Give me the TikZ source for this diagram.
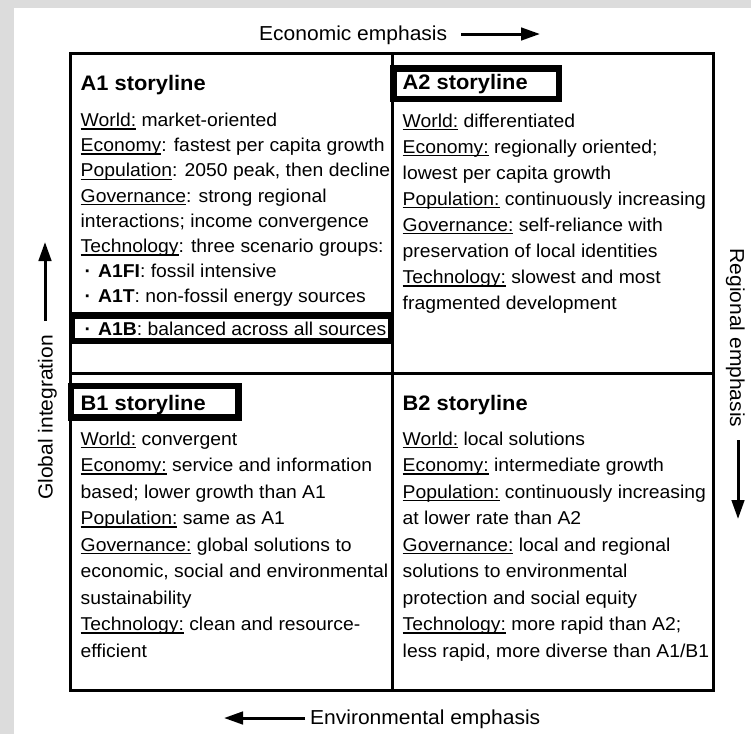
\documentclass[tikz,border=0pt]{standalone}
\usepackage{fontspec}
\setmainfont{Liberation Sans}[FakeStretch=1.04]
\usetikzlibrary{arrows.meta}
\definecolor{panelgray}{RGB}{220,220,220}

% underlined field name: a thin rule just below the baseline
\newsavebox\ulbox
\newcommand\ulword[1]{\sbox\ulbox{#1}\rlap{\rule[-3pt]{\wd\ulbox}{1.3pt}}\usebox\ulbox}
% a block of left-aligned lines with a fixed line pitch
\newcommand\bodyblock[2]{\fontsize{18.6}{#1}\selectfont\begin{tabular}[t]{@{}l@{}}#2\end{tabular}}
\newcommand\bul{\hspace{4pt}\textbf{·}\hspace{7pt}}

\tikzset{
  bodytext/.style={anchor=base west, inner sep=0pt},
  storytitle/.style={anchor=base west, inner sep=0pt, font=\fontsize{21}{25}\selectfont\bfseries},
  axislabel/.style={anchor=base, inner sep=0pt, font=\fontsize{20.2}{24}\selectfont},
  axisarrow/.style={line width=3pt, -{Triangle[length=19pt,width=12.5pt]}},
  hilite/.style={draw, line width=6.5pt},
  gridline/.style={line width=3pt}
}

\begin{document}
\begin{tikzpicture}[x=1pt,y=-1pt]
\useasboundingbox (0,0) rectangle (751,734);
\fill[panelgray] (0,0) rectangle (751,734);
\fill[white] (14,8) rectangle (751,734);

% quadrant grid
\draw[gridline] (70,53) rectangle (713,690);
\draw[gridline] (392,53) -- (392,690);
\draw[gridline] (70,373) -- (713,373);

% highlighted entries
\draw[hilite] (72,315.5) rectangle (391,341);
\draw[hilite] (393.5,68.5) rectangle (559,99);
\draw[hilite] (71,386) rectangle (238.5,417.5);

% A1
\node[storytitle] (a1title) at (80.5,90) {A1 storyline};
\node[bodytext] (a1body) at (80.5,126.5) {\bodyblock{25.2pt}{%
\ulword{World:} market-oriented\\
\ulword{Economy}: fastest per capita growth\\
\ulword{Population}: 2050 peak, then decline\\
\ulword{Governance}: strong regional\\
interactions; income convergence\\
\ulword{Technology}: three scenario groups:\\
\bul\textbf{A1FI}: fossil intensive\\
\bul\textbf{A1T}: non-fossil energy sources}};
\node[bodytext] (a1b) at (80.5,335) {\bodyblock{25.2pt}{\bul\textbf{A1B}: balanced across all sources}};

% A2
\node[storytitle] (a2title) at (402.5,89) {A2 storyline};
\node[bodytext] (a2body) at (402.5,127) {\bodyblock{26.1pt}{%
\ulword{World:} differentiated\\
\ulword{Economy:} regionally oriented;\\
lowest per capita growth\\
\ulword{Population:} continuously increasing\\
\ulword{Governance:} self-reliance with\\
preservation of local identities\\
\ulword{Technology:} slowest and most\\
fragmented development}};

% B1
\node[storytitle] (b1title) at (80.5,410) {B1 storyline};
\node[bodytext] (b1body) at (80.5,445) {\bodyblock{26.5pt}{%
\ulword{World:} convergent\\
\ulword{Economy:} service and information\\
based; lower growth than A1\\
\ulword{Population:} same as A1\\
\ulword{Governance:} global solutions to\\
economic, social and environmental\\
sustainability\\
\ulword{Technology:} clean and resource-\\
efficient}};

% B2
\node[storytitle] (b2title) at (402.5,410) {B2 storyline};
\node[bodytext] (b2body) at (402.5,445) {\bodyblock{26.5pt}{%
\ulword{World:} local solutions\\
\ulword{Economy:} intermediate growth\\
\ulword{Population:} continuously increasing\\
at lower rate than A2\\
\ulword{Governance:} local and regional\\
solutions to environmental\\
protection and social equity\\
\ulword{Technology:} more rapid than A2;\\
less rapid, more diverse than A1/B1}};

% axis labels and arrows
\node[axislabel, anchor=base west] (econ) at (259,40.5) {Economic emphasis};
\coordinate (econA) at (461,34);
\coordinate (econB) at (540,34);
\draw[axisarrow] (econA) -- (econB);

\node[axislabel, anchor=base west] (env) at (310,724.5) {Environmental emphasis};
\coordinate (envA) at (305,718);
\coordinate (envB) at (224,718);
\draw[axisarrow] (envA) -- (envB);

\node[axislabel, rotate=90] (glob) at (52.5,417.5) {Global integration};
\coordinate (globA) at (45,321);
\coordinate (globB) at (45,242);
\draw[axisarrow] (globA) -- (globB);

\node[axislabel, rotate=-90] (reg) at (730,338) {Regional emphasis};
\coordinate (regA) at (738,440);
\coordinate (regB) at (738,519);
\draw[axisarrow] (regA) -- (regB);
\end{tikzpicture}
\end{document}
